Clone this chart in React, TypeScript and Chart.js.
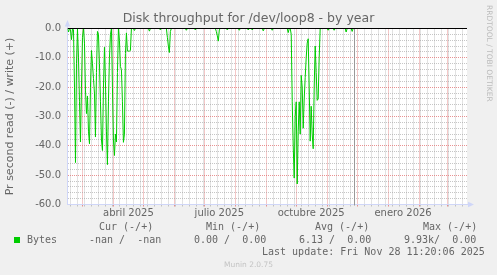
import React, { useEffect, useRef } from 'react';
import { Chart, registerables } from 'chart.js';

Chart.register(...registerables);

// x values are day-of-year counted from 1 Jan 2025 (0 = 1 Jan 2025)
const readDays = [
  44, 45, 46, 47, 48, 49, 50, 51, 52, 53, 54, 55, 56, 57, 58, 59, 60, 61, 62, 63,
  64, 65, 66, 67, 68, 69, 70, 71, 72, 73, 74, 75, 76, 77, 78, 79, 80, 81, 82, 83,
  84, 85, 86, 87, 88, 89, 90, 91, 92, 93, 94, 95, 96, 97, 98, 99, 100, 101, 102, 103,
  104, 105, 106, 107, 108,
  110, 111, 112, 125, 126, 127, 136, 137, 138,
  143, 144, 145, 146, 147, 148, 162, 163, 164, 171, 172, 173,
  192, 193, 194, 195, 196, 197, 203, 204, 205, 215, 216, 217,
  224, 225, 226, 228, 229, 230, 239, 240, 241, 248, 249, 250, 264, 265, 266,
  267, 268, 269, 270, 271, 272, 273, 274, 275, 276, 277, 278, 279, 280, 281, 282,
  283, 284, 285, 286, 287, 288, 289, 290, 291, 292, 293, 294, 295, 296, 297,
  304, 305, 306, 310, 311, 312, 322, 323, 324, 328, 329, 330,
];

const readValues = [
  0, -1.2, 0, -0.5, -3.8, 0, -0.5, -20, -45.7, -12, 0, -10, -25, -38.7, -20, -3, 0, -5, -21, -29,
  -23, -35, -39.3, -20, -7.5, -12, -17, -22, -37, -15, -1, -2, -12, -25, -38, -41.6, -20, -6.4, -18, -35,
  -46.4, -25, -10, -2, 0, -20, -38, -43.3, -36, -38.7, -15, 0, -4, -13, -14, -25, -38.8, -36, -8.5, -1.5,
  -7.7, -7.7, -7.7, -7.5, 0,
  0, -0.7, 0, 0, -0.9, 0, 0, -0.5, 0,
  0, -3, -6, -8.2, -1, 0, 0, -0.6, 0, 0, -0.5, 0,
  0, -1, -2.5, -4.3, -0.5, 0, 0, -0.5, 0, 0, -0.6, 0,
  0, -0.5, 0, 0, -0.5, 0, 0, -0.8, 0, 0, -0.6, 0, 0, -1.4, 0,
  0, -2, -25, -40, -51, -30, -25, -53, -35, -25, -36, -16, -20, -34, -24, -16.7,
  -10, -5, -3.5, -20, -38.4, -26.5, -36, -41, -20, -6, -15, -24.5, -24, -10, 0,
  0, -0.6, 0, 0, -0.6, 0, 0, -1.2, 0, 0, -1.0, 0,
];

const monthStartDays = [59, 90, 120, 151, 181, 212, 243, 273, 304, 334, 365, 396, 424];
const monthLabelDays = [105, 196, 288, 380];
const monthLabels = ['abril 2025', 'julio 2025', 'octubre 2025', 'enero 2026'];
const firstMonday = 5; // 6 Jan 2025
const yMajorTicks = [0, -10, -20, -30, -40, -50, -60];
const yMinorStep = 2;
const xMin = 44;
const xMax = 444;
const yMin = -60;
const yMax = 0;
const lastUpdateDay = 331;

const legendHeaders = ['Cur (-/+)', 'Min (-/+)', 'Avg (-/+)', 'Max (-/+)'];
const legendValues = ['-nan /  -nan', '0.00 /  0.00', '6.13 /  0.00', '9.93k/  0.00'];
const seriesName = 'Bytes';
const lastUpdate = 'Last update: Fri Nov 28 11:20:06 2025';

const GREEN = '#00cc00';
const FONT = '#666666';
const AXIS = '#cfd6f8';
const MGRID = 'rgba(225,110,110,0.75)';
const GRID = 'rgba(160,160,160,0.6)';

const headerX = [99, 206, 315, 423];
const valueX = [89, 194, 299, 404];

const muninPlugin = {
  id: 'muninDecor',
  beforeDraw(chart: any) {
    const { ctx, chartArea: a } = chart;
    ctx.save();
    ctx.fillStyle = '#ffffff';
    ctx.fillRect(a.left, a.top, a.right - a.left, a.bottom - a.top);
    ctx.restore();
  },
  afterDatasetsDraw(chart: any) {
    const { ctx, chartArea: a, scales } = chart;
    const x = scales.x;
    const y = scales.y;
    ctx.save();
    const nx = Math.round(x.getPixelForValue(lastUpdateDay) - 0.5) + 0.5;
    ctx.strokeStyle = '#999999';
    ctx.lineWidth = 1;
    ctx.beginPath();
    ctx.moveTo(nx, a.top);
    ctx.lineTo(nx, a.bottom + 1);
    ctx.stroke();
    const zy = Math.round(y.getPixelForValue(0) - 0.5) + 0.5;
    ctx.strokeStyle = '#000000';
    ctx.beginPath();
    ctx.moveTo(a.left, zy);
    ctx.lineTo(a.right, zy);
    ctx.stroke();
    const lx = Math.round(a.left - 0.5) + 0.5;
    const by = Math.round(a.bottom - 0.5) + 0.5;
    ctx.strokeStyle = AXIS;
    ctx.fillStyle = AXIS;
    ctx.beginPath();
    ctx.moveTo(lx, a.top);
    ctx.lineTo(lx, a.top - 3);
    ctx.moveTo(a.right, by);
    ctx.lineTo(a.right + 3, by);
    ctx.stroke();
    ctx.beginPath();
    ctx.moveTo(lx, a.top - 8.5);
    ctx.lineTo(lx - 2.7, a.top - 2);
    ctx.lineTo(lx + 2.7, a.top - 2);
    ctx.closePath();
    ctx.fill();
    ctx.beginPath();
    ctx.moveTo(a.right + 7, by);
    ctx.lineTo(a.right + 1, by - 2.7);
    ctx.lineTo(a.right + 1, by + 2.7);
    ctx.closePath();
    ctx.fill();
    ctx.restore();
  },
};

export default function App() {
  const ref = useRef<HTMLCanvasElement | null>(null);

  useEffect(() => {
    if (!ref.current) return;
    const weeklyDays: number[] = [];
    for (let d = firstMonday; d < xMax; d += 7) if (d > xMin) weeklyDays.push(d);
    const xTicks = Array.from(new Set([...monthStartDays, ...monthLabelDays, ...weeklyDays])).sort((a, b) => a - b);
    const yTicks: number[] = [];
    for (let v = yMin; v <= yMax; v += yMinorStep) yTicks.push(v);
    const labelMap = new Map<number, string>();
    monthLabelDays.forEach((d, i) => labelMap.set(d, monthLabels[i]));

    const xColor = (c: any) => {
      const v = c.tick ? c.tick.value : NaN;
      if (monthStartDays.includes(v)) return MGRID;
      if (monthLabelDays.includes(v)) return 'rgba(0,0,0,0)';
      return GRID;
    };
    const yColor = (c: any) => {
      const v = c.tick ? c.tick.value : NaN;
      if (v === yMin) return 'rgba(0,0,0,0)';
      if (v === 0) return '#000000';
      if (yMajorTicks.includes(v)) return MGRID;
      return GRID;
    };

    Chart.defaults.font.family = 'DejaVu Sans';
    Chart.defaults.color = FONT;

    const chart = new Chart(ref.current, {
      type: 'line',
      data: {
        datasets: [
          {
            label: seriesName,
            data: readDays.map((d, i) => ({ x: d, y: readValues[i] })),
            borderColor: GREEN,
            backgroundColor: GREEN,
            borderWidth: 1,
            pointRadius: 0,
            fill: false,
            tension: 0,
          },
        ],
      },
      options: {
        animation: false,
        responsive: false,
        maintainAspectRatio: false,
        layout: { padding: 0 },
        plugins: {
          legend: { display: false },
          tooltip: { enabled: false },
          title: {
            display: true,
            text: 'Disk throughput for /dev/loop8 - by year',
            color: FONT,
            font: { family: 'DejaVu Sans', size: 12.5, weight: 'normal' },
            padding: { top: 11.5, bottom: 2 },
          },
        },
        scales: {
          x: {
            type: 'linear',
            min: xMin,
            max: xMax,
            afterBuildTicks: (s: any) => {
              s.ticks = xTicks.map((v) => ({ value: v }));
            },
            afterFit: (s: any) => {
              s.height = 70.5;
            },
            ticks: {
              autoSkip: false,
              maxRotation: 0,
              padding: 0.5,
              color: FONT,
              font: { size: 10 },
              callback: (v: any) => labelMap.get(Number(v)) ?? '',
            },
            grid: {
              color: xColor,
              tickColor: xColor,
              tickLength: 2,
              tickBorderDash: [],
              borderDash: [1, 1],
              lineWidth: 1,
            },
            border: { color: AXIS, dash: [1, 1] },
          },
          y: {
            position: 'left',
            min: yMin,
            max: yMax,
            afterBuildTicks: (s: any) => {
              s.ticks = yTicks.map((v) => ({ value: v }));
            },
            afterFit: (s: any) => {
              s.width = 67.5;
            },
            ticks: {
              autoSkip: false,
              padding: 6.5,
              color: FONT,
              font: { size: 10 },
              callback: (v: any) => (yMajorTicks.includes(Number(v)) ? Number(v).toFixed(1) : ''),
            },
            grid: { color: yColor, drawTicks: false, lineWidth: 1, borderDash: [1, 1] },
            border: { color: AXIS, dash: [1, 1] },
            title: {
              display: true,
              text: 'Pr second read (-) / write (+)',
              color: FONT,
              font: { size: 11 },
              padding: { top: 4, bottom: 0 },
            },
          },
          yR: {
            position: 'right',
            display: true,
            min: yMin,
            max: yMax,
            grid: { display: false, drawOnChartArea: false },
            ticks: { display: false },
            border: { display: false },
            afterFit: (s: any) => {
              s.width = 30;
            },
          },
        },
      } as any,
      plugins: [muninPlugin],
    });
    return () => chart.destroy();
  }, []);

  const mono: React.CSSProperties = {
    position: 'absolute',
    fontFamily: '"DejaVu Sans Mono", monospace',
    fontSize: 10,
    lineHeight: '12px',
    whiteSpace: 'pre',
    color: FONT,
  };

  return (
    <div
      style={{
        position: 'fixed',
        left: 0,
        top: 0,
        width: 497,
        height: 275,
        background: '#f0f0f0',
        overflow: 'hidden',
      }}
    >
      <canvas ref={ref} width={497} height={275} style={{ position: 'absolute', left: 0, top: 0, display: 'block' }} />
      <div
        style={{
          position: 'absolute',
          left: 484.5,
          top: 5,
          writingMode: 'vertical-rl',
          fontFamily: '"DejaVu Sans", sans-serif',
          fontSize: 7.5,
          lineHeight: '9px',
          color: '#bbbbbb',
          whiteSpace: 'pre',
        }}
      >
        RRDTOOL / TOBI OETIKER
      </div>
      {legendHeaders.map((h, i) => (
        <div key={'h' + i} style={{ ...mono, left: headerX[i], top: 221 }}>
          {h}
        </div>
      ))}
      <div style={{ position: 'absolute', left: 14, top: 237, width: 6, height: 6, background: GREEN }} />
      <div style={{ ...mono, left: 27, top: 234 }}>{seriesName}</div>
      {legendValues.map((v, i) => (
        <div key={'v' + i} style={{ ...mono, left: valueX[i], top: 234 }}>
          {v}
        </div>
      ))}
      <div style={{ ...mono, left: 262, top: 245.5 }}>{lastUpdate}</div>
      <div
        style={{
          position: 'absolute',
          left: 0,
          width: 497,
          top: 259.5,
          textAlign: 'center',
          fontFamily: '"DejaVu Sans", sans-serif',
          fontSize: 7.5,
          lineHeight: '9px',
          color: '#c4c4c4',
        }}
      >
        Munin 2.0.75
      </div>
    </div>
  );
}
